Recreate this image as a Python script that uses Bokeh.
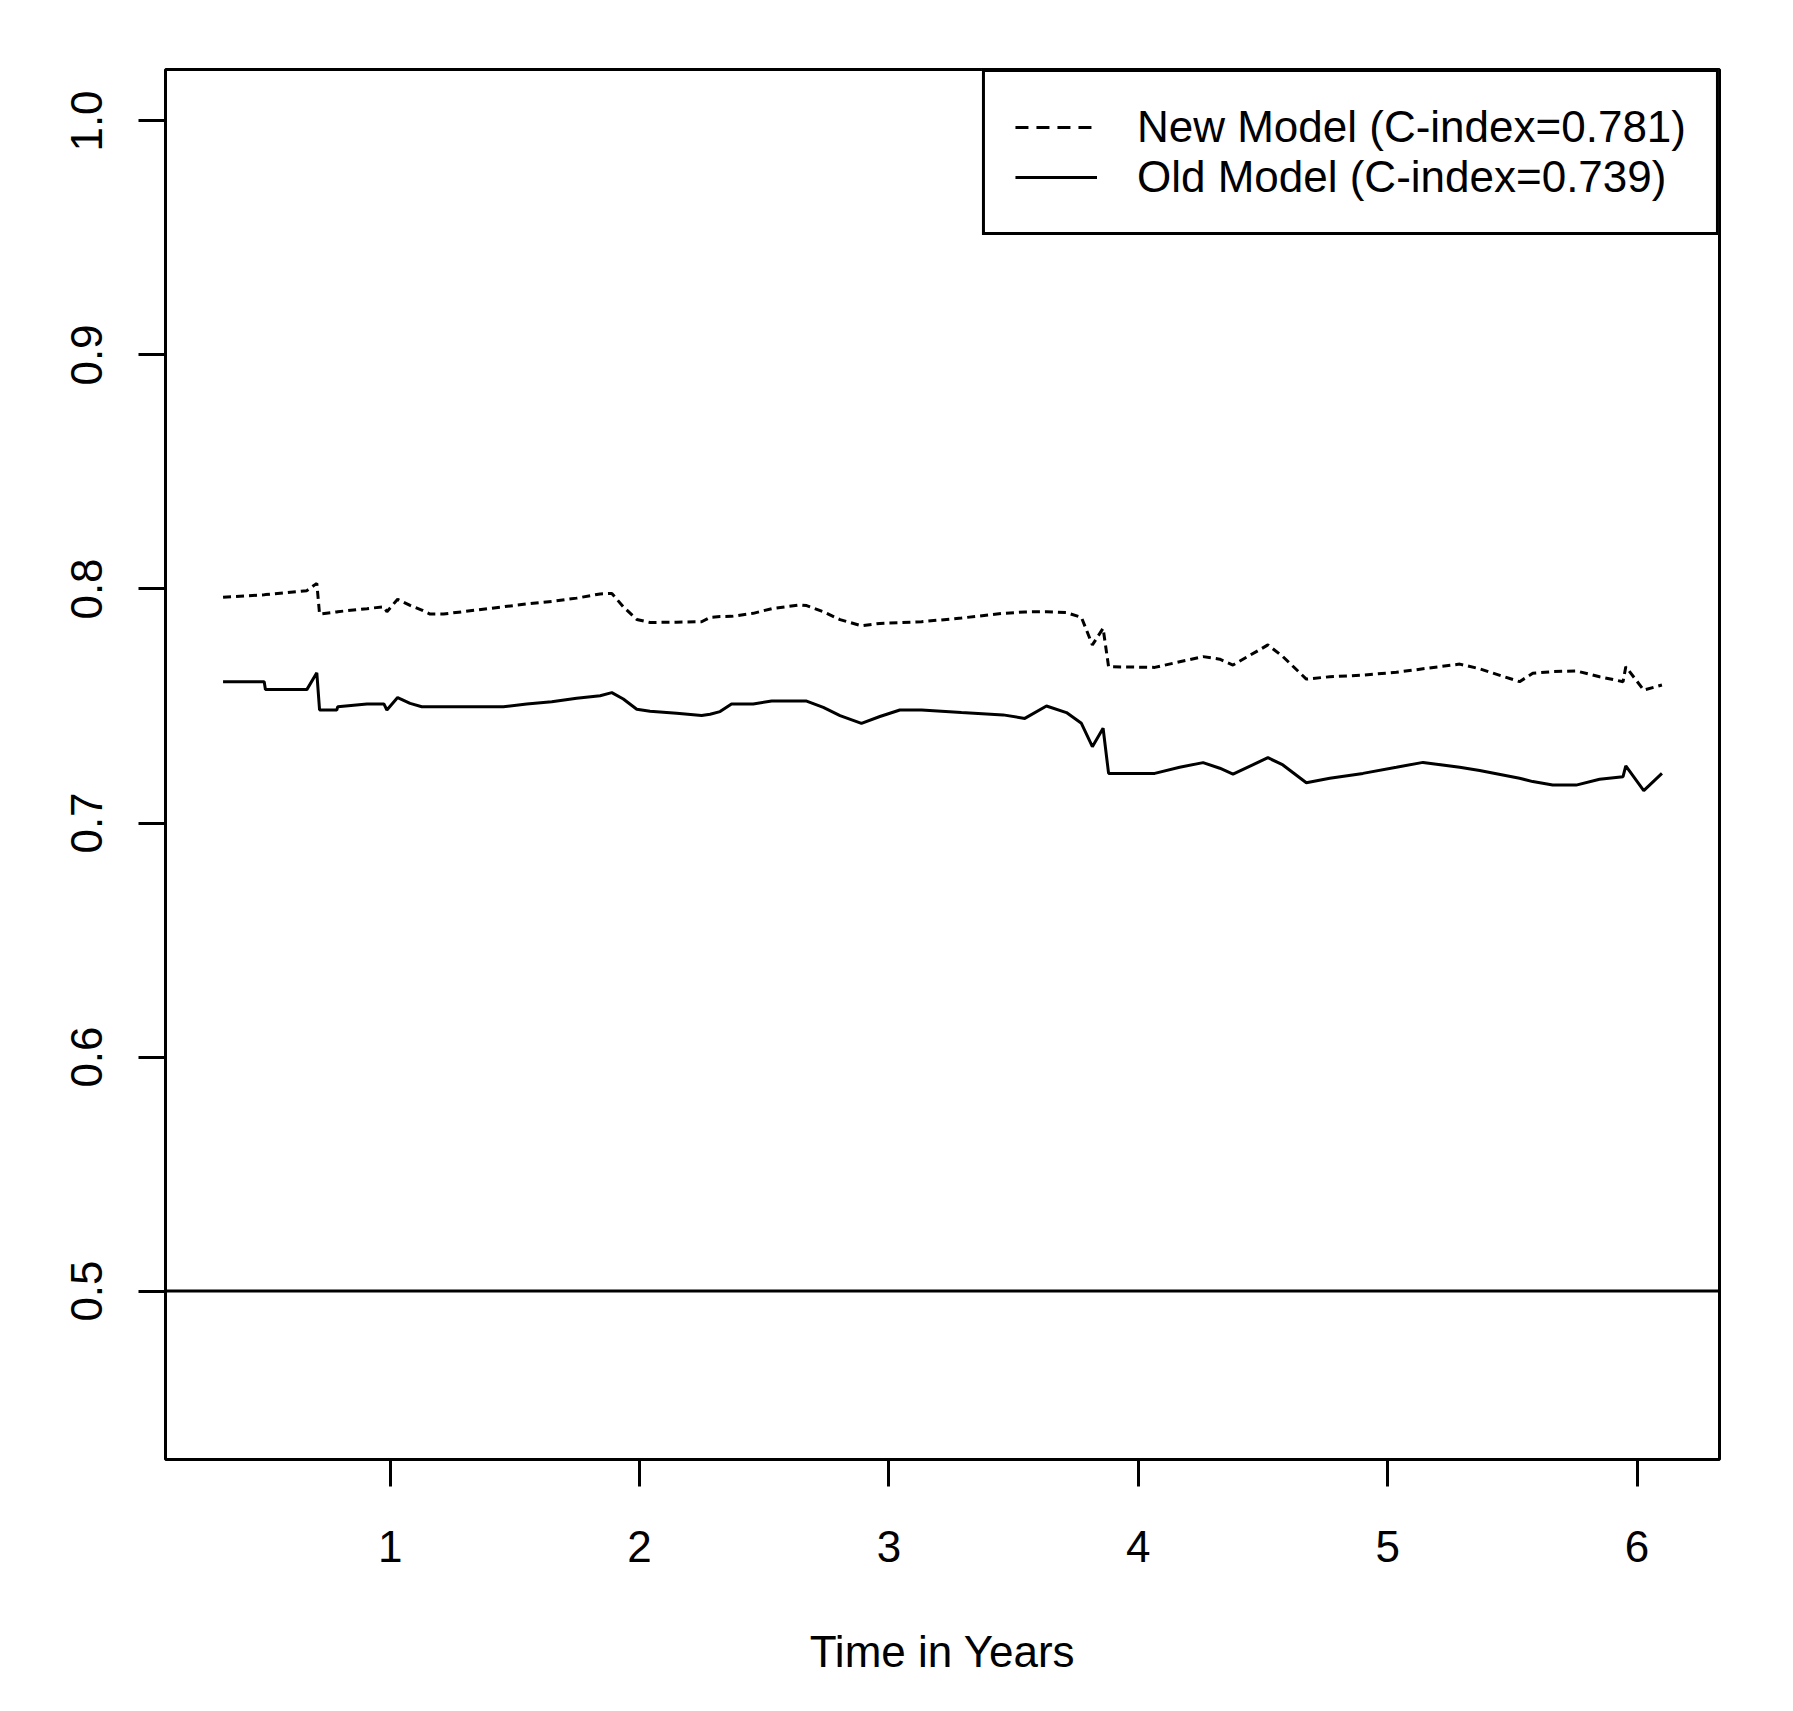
from bokeh.plotting import figure
from bokeh.models import Span, Legend, LegendItem, FixedTicker, Range1d
from bokeh.embed import file_html
from bokeh.resources import INLINE

# ---- data ----
time_years = [0.330, 0.495, 0.500, 0.666, 0.706, 0.717, 0.786, 0.790, 0.907, 0.975,
              0.987, 1.030, 1.080, 1.127, 1.160, 1.214, 1.454, 1.548, 1.648, 1.748,
              1.842, 1.889, 1.935, 1.989, 2.042, 2.149, 2.249, 2.283, 2.323, 2.369,
              2.456, 2.530, 2.643, 2.670, 2.737, 2.804, 2.890, 2.964, 3.044, 3.131,
              3.291, 3.458, 3.545, 3.632, 3.712, 3.772, 3.816, 3.859, 3.881, 4.066,
              4.166, 4.260, 4.327, 4.380, 4.520, 4.580, 4.674, 4.768, 4.901, 5.035,
              5.142, 5.289, 5.369, 5.529, 5.582, 5.662, 5.756, 5.850, 5.944, 5.955,
              6.027, 6.100]
new_model_auc = [0.7965, 0.7975, 0.7976, 0.7993, 0.8024, 0.7893, 0.7902, 0.7903, 0.7916, 0.7924,
                 0.7903, 0.7956, 0.7930, 0.7910, 0.7893, 0.7893, 0.7924, 0.7936, 0.7947, 0.7961,
                 0.7979, 0.7981, 0.7924, 0.7870, 0.7857, 0.7858, 0.7860, 0.7879, 0.7882, 0.7883,
                 0.7896, 0.7916, 0.7932, 0.7929, 0.7903, 0.7869, 0.7843, 0.7853, 0.7856, 0.7860,
                 0.7876, 0.7896, 0.7902, 0.7903, 0.7899, 0.7879, 0.7761, 0.7832, 0.7668, 0.7665,
                 0.7689, 0.7711, 0.7700, 0.7675, 0.7761, 0.7711, 0.7615, 0.7625, 0.7632, 0.7644,
                 0.7659, 0.7679, 0.7659, 0.7604, 0.7640, 0.7647, 0.7650, 0.7625, 0.7604, 0.7668,
                 0.7568, 0.7590]
old_model_auc = [0.7604, 0.7604, 0.7570, 0.7570, 0.7642, 0.7483, 0.7483, 0.7497, 0.7509, 0.7509,
                 0.7483, 0.7536, 0.7511, 0.7497, 0.7497, 0.7497, 0.7497, 0.7509, 0.7518, 0.7533,
                 0.7544, 0.7557, 0.7530, 0.7486, 0.7478, 0.7469, 0.7459, 0.7465, 0.7476, 0.7509,
                 0.7509, 0.7521, 0.7521, 0.7521, 0.7494, 0.7459, 0.7426, 0.7455, 0.7483, 0.7483,
                 0.7472, 0.7462, 0.7447, 0.7500, 0.7472, 0.7426, 0.7326, 0.7405, 0.7212, 0.7212,
                 0.7238, 0.7258, 0.7234, 0.7209, 0.7279, 0.7248, 0.7172, 0.7191, 0.7212, 0.7238,
                 0.7259, 0.7238, 0.7224, 0.7191, 0.7177, 0.7162, 0.7162, 0.7187, 0.7198, 0.7244,
                 0.7138, 0.7212]
reference_auc = 0.5
x_ticks = [1, 2, 3, 4, 5, 6]
x_tick_labels = ["1", "2", "3", "4", "5", "6"]
y_ticks = [0.5, 0.6, 0.7, 0.8, 0.9, 1.0]
y_tick_labels = ["0.5", "0.6", "0.7", "0.8", "0.9", "1.0"]
y_limits = [0.45, 1.0]
legend_labels = ["New Model (C-index=0.781)", "Old Model (C-index=0.739)"]
x_title = "Time in Years"

FONT = "Liberation Sans"
FS = "44px"

# R-style 4% axis extension
xmin, xmax = min(time_years), max(time_years)
dx = 0.04 * (xmax - xmin)
dy = 0.04 * (y_limits[1] - y_limits[0])

p = figure(frame_width=1554, frame_height=1390,
           min_border_left=165, min_border_top=69, min_border_right=50, min_border_bottom=235,
           x_range=Range1d(xmin - dx, xmax + dx),
           y_range=Range1d(y_limits[0] - dy, y_limits[1] + dy),
           output_backend="svg", toolbar_location=None,
           background_fill_color="white", border_fill_color="white")

p.xgrid.visible = False
p.ygrid.visible = False
p.outline_line_color = "black"
p.outline_line_width = 3
p.outline_line_alpha = 1.0

for ax in (p.xaxis[0], p.yaxis[0]):
    ax.axis_line_color = None
    ax.major_tick_in = 0
    ax.major_tick_out = 27
    ax.major_tick_line_width = 3
    ax.major_tick_line_color = "black"
    ax.minor_tick_line_color = None
    ax.major_label_text_font = FONT
    ax.major_label_text_font_size = FS
    ax.major_label_text_color = "black"

p.xaxis.major_label_standoff = 44
p.yaxis.major_label_standoff = 36

p.xaxis.ticker = FixedTicker(ticks=x_ticks)
p.xaxis.major_label_overrides = {t: l for t, l in zip(x_ticks, x_tick_labels)}
p.yaxis.ticker = FixedTicker(ticks=y_ticks)
p.yaxis.major_label_overrides = {t: l for t, l in zip(y_ticks, y_tick_labels)}
p.yaxis.major_label_orientation = "parallel"

p.xaxis.axis_label = x_title
p.xaxis.axis_label_text_font = FONT
p.xaxis.axis_label_text_font_size = FS
p.xaxis.axis_label_text_font_style = "normal"
p.xaxis.axis_label_text_color = "black"
p.xaxis.axis_label_standoff = 62

# reference line at 0.5
p.add_layout(Span(location=reference_auc, dimension="width", line_color="black", line_width=3))

r_new = p.line(time_years, new_model_auc, line_color="black", line_width=3, line_dash="8 5")
r_old = p.line(time_years, old_model_auc, line_color="black", line_width=3)

# key samples: R draws the legend key with longer dashes; hidden copies of the same series
k_new = p.line(time_years, new_model_auc, line_color="black", line_width=3, line_dash="13 8", visible=False)
k_old = p.line(time_years, old_model_auc, line_color="black", line_width=3, visible=False)

legend = Legend(items=[LegendItem(label=legend_labels[0], renderers=[k_new]),
                       LegendItem(label=legend_labels[1], renderers=[k_old])],
                location="top_right", margin=0, padding=30, spacing=0,
                glyph_width=82, glyph_height=40, label_standoff=40,
                label_text_font=FONT, label_text_font_size=FS, label_text_color="black",
                border_line_color="black", border_line_width=3, border_line_alpha=1.0,
                background_fill_color="white", background_fill_alpha=1.0,
                inactive_fill_alpha=0.0)
p.add_layout(legend, "center")

open("out.html", "w").write(file_html(p, INLINE))
